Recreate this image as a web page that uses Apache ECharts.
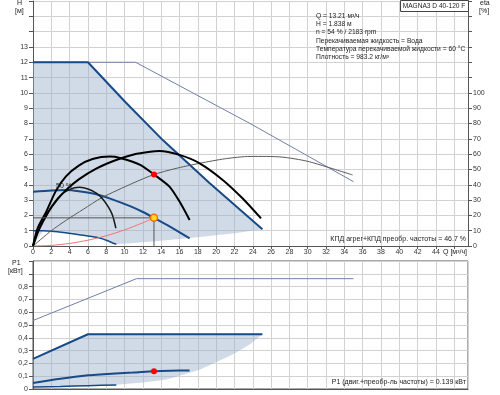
<!DOCTYPE html>
<html><head><meta charset="utf-8">
<script src="https://cdn.jsdelivr.net/npm/echarts@6/dist/echarts.min.js"></script>
<style>html,body{margin:0;padding:0;background:#fff}#c{width:500px;height:395px}</style>
</head><body><div id="c"></div>
<script>
// ---- data ----
const qLabelMax = 44;            // last labelled Q tick
const hLabelMax = 13;            // last labelled H tick
const etaLabelMax = 100;         // last labelled eta tick
const pLabelMax = 0.8;           // last labelled P1 tick

const maxH = [[0,12],[6,12],[10,9.45],[14.2,6.9],[19.3,4.1],[25.05,1.1]];
const rangeLowH = [[25.05,1.1],[22,0.83],[19,0.63],[16,0.45],[13,0.3],[11,0.2],[9.1,0.12]];
const minH = [[0,1.0],[1.1,0.99],[2,0.96],[3.3,0.88],[5,0.74],[6.95,0.57],[8,0.38],[8.7,0.2],[9.1,0.12]];
const thinLimitH = [[0,12],[11.2,12],[23.7,8.0],[35,4.2]];
const speed54H = [[0,3.55],[2,3.63],[3.67,3.66],[5,3.58],[6.9,3.38],[8.5,3.08],[10.6,2.6],[12,2.22],[13.21,1.838],[15,1.25],[17.1,0.5]];
const curveA = [[0,0],[0.5,1.15],[1.45,2.24],[2.5,3.6],[3.6,4.55],[5,5.25],[6.5,5.68],[8.4,5.84],[9.5,5.75],[11.7,5.3],[13.21,4.67],[14.9,3.88],[16,2.9],[17.1,1.7]];
const curveB = [[0,0],[0.6,1.0],[1.7,2.24],[2.6,3.0],[3.6,3.65],[5,4.35],[6.95,5.07],[9,5.6],[11,5.98],[12.8,6.16],[13.8,6.2],[16,5.95],[18.2,5.4],[20.75,4.3],[22.9,3.1],[24.9,1.8]];
const curveC = [[0,0],[0.5,0.85],[1,1.55],[2,2.55],[2.9,3.25],[4,3.7],[5.1,3.83],[6,3.72],[6.95,3.44],[7.7,3.0],[8.6,2.13],[9.05,1.16]];
const etaCurve = [[0,0],[2,10],[3.67,17],[5.5,24],[7.5,31.5],[10.9,41],[13.21,46.7],[15.5,50.5],[18.2,54],[21,57],[23.7,58.5],[25.5,58.5],[27.3,58],[29,56.5],[30.2,55],[32,51.8],[34.9,46.4]];
const systemH = [[0,0],[2,0.04],[4,0.17],[6,0.38],[8,0.67],[10,1.05],[12,1.52],[13.21,1.838]];
const opHLine = [[0,1.838],[13.21,1.838]];
const opVLine = [[13.21,1.838],[13.21,0]];
const opPointH = [[13.21,1.838]];
const opPointEta = [[13.21,46.7]];

const maxP = [[0,0.235],[6,0.428],[25.05,0.428]];
const rangeLowP = [[25.05,0.428],[23.7,0.35],[21.8,0.27],[18.2,0.15],[14.6,0.074],[12,0.05],[9.1,0.034]];
const minP = [[0,0.016],[3,0.02],[6,0.026],[9.1,0.032]];
const thinLimitP = [[0,0.535],[11.3,0.862],[35,0.862]];
const speed54P = [[0,0.047],[3,0.08],[6,0.107],[7.3,0.113],[9,0.121],[10.9,0.128],[13.21,0.139],[15,0.143],[17.1,0.145]];
const opPointP = [[13.21,0.139]];

const infoLines = ['Q = 13.21 м³/ч','H = 1.838 м','n = 54 % / 2183 rpm','Перекачиваемая жидкость = Вода','Температура перекачиваемой жидкости = 60 °C','Плотность = 983.2 кг/м³'];
const pumpName = 'MAGNA3 D 40-120 F';
const etaNote = 'КПД агрег+КПД преобр. частоты = 46.7 %';
const pNote = 'P1 (двиг.+преобр-ль частоты) = 0.139 кВт';
const speedLabel = '50 %';

// ---- styling helpers ----
const FONT = 'Liberation Sans, Arial, sans-serif';
const SHADE = 'rgba(150,175,202,0.45)';
const DARK = '#174a86';
const GRIDC = '#d2d2d2';
const AXC = '#555';

const shadeTop = maxH.concat(rangeLowH.slice(1)).concat(minH.slice(1).reverse()).concat([[0,0]]);
const shadeBot = maxP.concat(rangeLowP.slice(1)).concat(minP.slice().reverse());

function poly(xi, yi, pts) {
  return { type:'custom', xAxisIndex:xi, yAxisIndex:yi, data:[[0,0]], silent:true, z:1,
    renderItem: function(params, api){
      return { type:'polygon', shape:{ points: pts.map(p => api.coord(p)) }, style:{ fill: SHADE } };
    } };
}
function line(xi, yi, data, color, width, z, smooth) {
  return { type:'line', xAxisIndex:xi, yAxisIndex:yi, data:data, showSymbol:false, symbol:'none',
    smooth: smooth === undefined ? 0.25 : smooth, silent:true, z: z || 3, animation:false,
    lineStyle:{ color:color, width:width } };
}
function dot(xi, yi, data, fill, border, size) {
  return { type:'scatter', xAxisIndex:xi, yAxisIndex:yi, data:data, symbolSize:size, z:10, silent:true, animation:false,
    itemStyle:{ color:fill, borderColor:border, borderWidth: border ? 1.5 : 0, opacity:1 } };
}
const lbl = { fontSize:7, color:'#333', fontFamily:FONT };

const chart = echarts.init(document.getElementById('c'), null, { renderer:'canvas' });
chart.setOption({
  animation:false,
  backgroundColor:'#fff',
  grid:[
    { left:33, right:32, top:1, height:245 },
    { left:33, right:32, top:261, height:128, show:true, borderColor:AXC, borderWidth:1, backgroundColor:'transparent' }
  ],
  xAxis:[
    { type:'value', gridIndex:0, min:0, max:47.5, interval:2,
      axisLine:{ show:true, onZero:false, lineStyle:{ color:AXC } },
      axisTick:{ show:true, length:3, lineStyle:{ color:AXC } },
      axisLabel:Object.assign({ margin:3, showMaxLabel:false, formatter: v => v <= qLabelMax ? String(v) : '' }, lbl),
      splitLine:{ show:true, lineStyle:{ color:GRIDC } } },
    { type:'value', gridIndex:1, min:0, max:47.5, interval:2,
      axisLine:{ show:true, onZero:false, lineStyle:{ color:AXC } },
      axisTick:{ show:false }, axisLabel:{ show:false },
      splitLine:{ show:true, lineStyle:{ color:GRIDC } } }
  ],
  yAxis:[
    { type:'value', gridIndex:0, min:0, max:16, interval:1, position:'left',
      axisLine:{ show:true, onZero:false, lineStyle:{ color:AXC } },
      axisTick:{ show:true, length:4, lineStyle:{ color:AXC } },
      axisLabel:Object.assign({ margin:5, formatter: v => v <= hLabelMax ? String(v) : '' }, lbl),
      splitLine:{ show:true, lineStyle:{ color:GRIDC } } },
    { type:'value', gridIndex:0, min:0, max:160, interval:10, position:'right',
      axisLine:{ show:true, onZero:false, lineStyle:{ color:AXC } },
      axisTick:{ show:true, length:4, lineStyle:{ color:AXC } },
      axisLabel:Object.assign({ margin:5, formatter: v => v <= etaLabelMax ? String(v) : '' }, lbl),
      splitLine:{ show:false } },
    { type:'value', gridIndex:1, min:0, max:1, interval:0.1, position:'left',
      axisLine:{ show:true, onZero:false, lineStyle:{ color:AXC } },
      axisTick:{ show:true, length:4, lineStyle:{ color:AXC } },
      axisLabel:Object.assign({ margin:5, formatter: v => v > pLabelMax + 0.01 ? '' : (v < 0.001 ? '0' : v.toFixed(1).replace('.', ',')) }, lbl),
      splitLine:{ show:true, lineStyle:{ color:GRIDC } } }
  ],
  series:[
    poly(0, 0, shadeTop),
    line(0, 0, thinLimitH, '#7080a8', 1, 3, false),
    line(0, 0, maxH, DARK, 2, 4, false),
    line(0, 0, minH, DARK, 1.5, 4),
    line(0, 0, speed54H, DARK, 2, 4),
    line(0, 0, systemH, '#f07272', 1, 5),
    line(0, 1, etaCurve, '#5a5a5a', 1, 5),
    line(0, 0, curveC, '#1a1a1a', 1.5, 6),
    line(0, 0, curveA, '#000', 2, 6),
    line(0, 0, curveB, '#000', 2, 6),
    line(0, 0, opHLine, '#555', 1, 6, false),
    line(0, 0, opVLine, '#555', 1, 6, false),
    dot(0, 1, opPointEta, '#ff0000', null, 6),
    dot(0, 0, opPointH, '#ffdd22', '#f07000', 7),

    poly(1, 2, shadeBot),
    line(1, 2, thinLimitP, '#7080a8', 1, 3, false),
    line(1, 2, maxP, DARK, 2, 4, false),
    line(1, 2, minP, DARK, 1.5, 4),
    line(1, 2, speed54P, DARK, 2, 4),
    dot(1, 2, opPointP, '#ff0000', null, 6)
  ],
  graphic:[
    { type:'text', left:17, top:0, style:{ text:'H', fontSize:7, fill:'#222', fontFamily:FONT } },
    { type:'text', left:15, top:8, style:{ text:'[м]', fontSize:7, fill:'#222', fontFamily:FONT } },
    { type:'text', left:480, top:0, style:{ text:'eta', fontSize:7, fill:'#222', fontFamily:FONT } },
    { type:'text', left:479, top:8, style:{ text:'[%]', fontSize:7, fill:'#222', fontFamily:FONT } },
    { type:'text', left:12, top:260, style:{ text:'P1', fontSize:7, fill:'#222', fontFamily:FONT } },
    { type:'text', left:8, top:268, style:{ text:'[кВт]', fontSize:7, fill:'#222', fontFamily:FONT } },
    { type:'text', left:443, top:249, style:{ text:'Q [м³/ч]', fontSize:7, fill:'#222', fontFamily:FONT } },
    { type:'rect', left:400, top:0, shape:{ width:68, height:11 }, style:{ fill:'#fff', stroke:'#444', lineWidth:1 }, z:20 },
    { type:'text', x:434, y:6, z:21, style:{ text:pumpName, fontSize:6.6, fill:'#222', fontFamily:FONT, align:'center', verticalAlign:'middle' } },
    { type:'text', left:316, top:12, z:21, style:{ text:infoLines.join('\n'), fontSize:6.7, lineHeight:8.2, fill:'#222', fontFamily:FONT } },
    { type:'text', right:34, top:236, z:21, style:{ text:etaNote, fontSize:7, fill:'#222', fontFamily:FONT } },
    { type:'text', right:34, top:379, z:21, style:{ text:pNote, fontSize:7, fill:'#222', fontFamily:FONT } },
    { type:'text', left:56, top:183, z:21, style:{ text:speedLabel, fontSize:7, fill:'#222', fontFamily:FONT } }
  ]
});
</script></body></html>
